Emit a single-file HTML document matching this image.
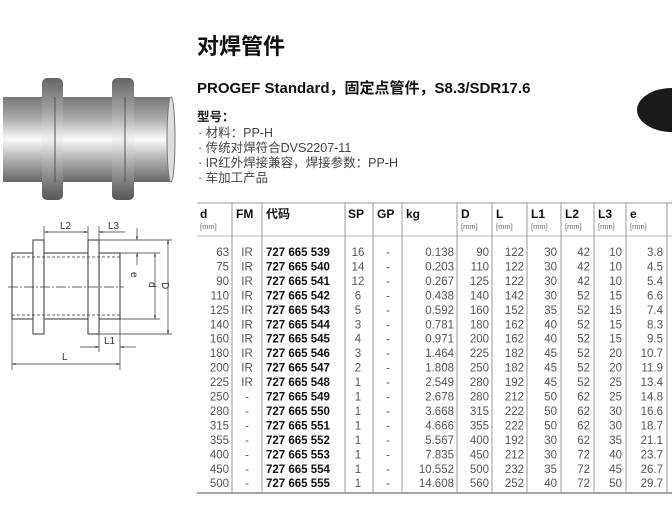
<!DOCTYPE html>
<html><head><meta charset="utf-8"><style>
body{margin:0;background:#fff;width:672px;height:510px;overflow:hidden}
svg{display:block}
text{font-family:"Liberation Sans","Noto Sans CJK SC",sans-serif}
.n{fill:#555;font-size:11.5px}
.c{fill:#111;font-size:11.5px;font-weight:bold}
.h{fill:#111;font-size:12px;font-weight:bold}
.u{fill:#666;font-size:7.5px}
</style></head><body>
<svg width="672" height="510" viewBox="0 0 672 510">
<defs>
<linearGradient id="g" x1="0" y1="0" x2="0" y2="1">
<stop offset="0" stop-color="#777"/><stop offset="0.25" stop-color="#aaa"/><stop offset="0.5" stop-color="#fafafa"/><stop offset="0.7" stop-color="#bbb"/><stop offset="1" stop-color="#666"/></linearGradient>
<linearGradient id="f" x1="0" y1="0" x2="0" y2="1">
<stop offset="0" stop-color="#666"/><stop offset="0.3" stop-color="#aaa"/><stop offset="0.5" stop-color="#f2f2f2"/><stop offset="0.7" stop-color="#aaa"/><stop offset="1" stop-color="#555"/></linearGradient>
<marker id="a" viewBox="0 0 10 10" refX="10" refY="5" markerWidth="7" markerHeight="5" orient="auto-start-reverse"><path d="M0,2L10,5L0,8z" fill="#333"/></marker>
</defs>
<!-- 3D pipe -->
<rect x="3" y="97" width="168" height="85" fill="url(#g)"/>
<ellipse cx="171" cy="139.5" rx="4" ry="42.5" fill="#ddd" stroke="#777"/>
<rect x="42" y="78" width="21" height="122" rx="5" fill="url(#f)"/>
<rect x="112" y="78" width="22" height="122" rx="5" fill="url(#f)"/>
<line x1="55" y1="97" x2="55" y2="182" stroke="#555"/>
<line x1="125" y1="97" x2="125" y2="182" stroke="#555"/>
<!-- technical drawing -->
<g stroke="#333" stroke-width="1" fill="none">
<rect x="12" y="253" width="108" height="66" fill="#fff"/>
<rect x="33" y="240" width="11" height="94" fill="#fff"/>
<rect x="88" y="240" width="11" height="94" fill="#fff"/>
<line x1="12" y1="257" x2="120" y2="257" stroke-dasharray="3,2" stroke-width="0.7"/>
<line x1="12" y1="315" x2="120" y2="315" stroke-dasharray="3,2" stroke-width="0.7"/>
<line x1="8" y1="287" x2="124" y2="287" stroke-dasharray="10,2,2,2" stroke-width="0.7"/>
<g stroke-width="0.7">
<line x1="44" y1="240" x2="44" y2="226"/><line x1="88" y1="240" x2="88" y2="226"/><line x1="99" y1="240" x2="99" y2="226"/>
<line x1="44" y1="232" x2="88" y2="232" marker-start="url(#a)" marker-end="url(#a)"/>
<line x1="99" y1="232" x2="125" y2="232" marker-start="url(#a)"/>
<line x1="99" y1="240" x2="172" y2="240"/><line x1="99" y1="334" x2="172" y2="334"/>
<line x1="120" y1="253" x2="160" y2="253"/><line x1="120" y1="319" x2="160" y2="319"/>
<line x1="168" y1="240" x2="168" y2="334" marker-start="url(#a)" marker-end="url(#a)"/>
<line x1="155" y1="253" x2="155" y2="319" marker-start="url(#a)" marker-end="url(#a)"/>
<line x1="137" y1="228" x2="137" y2="240" marker-end="url(#a)"/>
<line x1="137" y1="265" x2="137" y2="253" marker-end="url(#a)"/>
<line x1="99" y1="334" x2="99" y2="352"/><line x1="120" y1="319" x2="120" y2="370"/><line x1="12" y1="319" x2="12" y2="370"/>
<line x1="80" y1="347" x2="99" y2="347" marker-end="url(#a)"/>
<line x1="136" y1="347" x2="120" y2="347" marker-end="url(#a)"/>
<line x1="12" y1="364" x2="120" y2="364" marker-start="url(#a)" marker-end="url(#a)"/>
</g></g>
<g font-size="10" fill="#333">
<text x="60" y="229" font-family="Liberation Sans">L2</text>
<text x="108" y="229">L3</text>
<text x="104" y="344">L1</text>
<text x="62" y="360">L</text>
<text transform="translate(131,272) rotate(90)">e</text>
<text transform="translate(149,282) rotate(90)">d</text>
<text transform="translate(162,282) rotate(90)">D</text>
</g>
<ellipse cx="672" cy="110" rx="35" ry="22" fill="#1a1a1a"/>
<!-- header text -->
<text x="197" y="54" font-size="22" font-weight="bold" fill="#111">对焊管件</text>
<text x="197" y="93" font-size="15" font-weight="bold" fill="#111">PROGEF Standard，固定点管件，S8.3/SDR17.6</text>
<g font-size="12.5" fill="#444">
<text x="197" y="121" font-weight="bold" fill="#222">型号：</text>
<text x="198" y="137">· 材料：PP-H</text>
<text x="198" y="152">· 传统对焊符合DVS2207-11</text>
<text x="198" y="167">· IR红外焊接兼容，焊接参数：PP-H</text>
<text x="198" y="182">· 车加工产品</text>
</g>
<!-- table -->
<g stroke="#999" stroke-width="1">
<line x1="197" y1="203" x2="672" y2="203"/>
<line x1="197" y1="236" x2="672" y2="236" stroke="#bbb"/>
<line x1="197" y1="493" x2="672" y2="493" stroke="#888" stroke-width="1.5"/>
<line x1="232" y1="203" x2="232" y2="493"/><line x1="262" y1="203" x2="262" y2="493"/>
<line x1="345" y1="203" x2="345" y2="493"/><line x1="373" y1="203" x2="373" y2="493"/>
<line x1="402" y1="203" x2="402" y2="493"/><line x1="457" y1="203" x2="457" y2="493"/>
<line x1="492" y1="203" x2="492" y2="493"/><line x1="527" y1="203" x2="527" y2="493"/>
<line x1="561" y1="203" x2="561" y2="493"/><line x1="594" y1="203" x2="594" y2="493"/>
<line x1="626" y1="203" x2="626" y2="493"/><line x1="667" y1="203" x2="667" y2="493"/>
</g>
<g class="h">
<text x="200" y="218" class="h">d</text><text x="236" y="218" class="h">FM</text><text x="266" y="218" class="h">代码</text>
<text x="348" y="218" class="h">SP</text><text x="377" y="218" class="h">GP</text><text x="406" y="218" class="h">kg</text>
<text x="461" y="218" class="h">D</text><text x="496" y="218" class="h">L</text><text x="531" y="218" class="h">L1</text>
<text x="565" y="218" class="h">L2</text><text x="598" y="218" class="h">L3</text><text x="630" y="218" class="h">e</text>
</g>
<g class="u">
<text x="200" y="229">[mm]</text><text x="461" y="229">[mm]</text><text x="496" y="229">[mm]</text><text x="531" y="229">[mm]</text>
<text x="565" y="229">[mm]</text><text x="598" y="229">[mm]</text><text x="630" y="229">[mm]</text>
</g>
<g id="rows"></g>
</svg>
<script>
var d=[["63","IR","539","16","0.138","90","122","30","42","10","3.8"],["75","IR","540","14","0.203","110","122","30","42","10","4.5"],["90","IR","541","12","0.267","125","122","30","42","10","5.4"],["110","IR","542","6","0.438","140","142","30","52","15","6.6"],["125","IR","543","5","0.592","160","152","35","52","15","7.4"],["140","IR","544","3","0.781","180","162","40","52","15","8.3"],["160","IR","545","4","0.971","200","162","40","52","15","9.5"],["180","IR","546","3","1.464","225","182","45","52","20","10.7"],["200","IR","547","2","1.808","250","182","45","52","20","11.9"],["225","IR","548","1","2.549","280","192","45","52","25","13.4"],["250","-","549","1","2.678","280","212","50","62","25","14.8"],["280","-","550","1","3.668","315","222","50","62","30","16.6"],["315","-","551","1","4.666","355","222","50","62","30","18.7"],["355","-","552","1","5.567","400","192","30","62","35","21.1"],["400","-","553","1","7.835","450","212","30","72","40","23.7"],["450","-","554","1","10.552","500","232","35","72","45","26.7"],["500","-","555","1","14.608","560","252","40","72","50","29.7"]];
var g=document.getElementById("rows"),s="";
function t(x,y,v,c,a){return '<text x="'+x+'" y="'+y+'" class="'+c+'" text-anchor="'+a+'">'+v+'</text>';}
d.forEach(function(r,i){var y=256+i*14.45;
s+=t(229,y,r[0],"n","end")+t(247,y,r[1],"n","middle")+t(266,y,"727 665 "+r[2],"c","start")+t(358,y,r[3],"n","middle")+t(388,y,"-","n","middle")+t(454,y,r[4],"n","end")+t(489,y,r[5],"n","end")+t(524,y,r[6],"n","end")+t(557,y,r[7],"n","end")+t(590,y,r[8],"n","end")+t(622,y,r[9],"n","end")+t(663,y,r[10],"n","end");});
g.innerHTML=s;
</script>
</body></html>
